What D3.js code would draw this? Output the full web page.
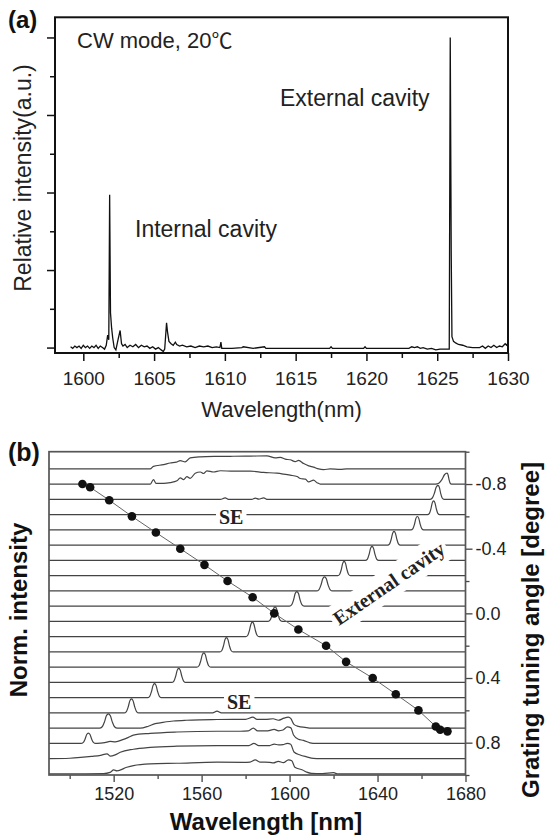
<!DOCTYPE html>
<html>
<head>
<meta charset="utf-8">
<script src="https://cdn.jsdelivr.net/npm/d3@7"></script>
<style>
body { margin: 0; background: #fff; }
svg { display: block; }
</style>
</head>
<body>
<svg id="fig" width="546" height="838"></svg>
<script>
// ---- panel (a) : CW spectrum, [wavelength nm, relative intensity]
const specA = [
  [1599.1,0.01],[1599.25,-0.01],[1599.4,0.02],[1599.55,0.0],[1599.7,0.02],[1599.85,-0.01],[1600.0,0.03],
  [1600.15,0.0],[1600.3,0.02],[1600.45,-0.01],[1600.6,0.02],[1600.75,0.0],[1600.9,0.03],[1601.05,-0.01],
  [1601.2,0.02],[1601.35,0.0],[1601.5,-0.02],[1601.62,0.03],[1601.72,0.16],[1601.8,0.1],[1601.86,1.97],
  [1601.92,0.45],[1602.0,0.25],[1602.08,0.12],[1602.18,0.0],[1602.3,-0.03],[1602.45,0.1],[1602.6,0.22],
  [1602.7,0.05],[1602.8,0.02],[1602.95,0.04],[1603.1,0.0],[1603.3,0.03],[1603.5,0.01],[1603.7,0.04],
  [1603.9,0.0],[1604.1,0.03],[1604.3,0.01],[1604.5,0.02],[1604.7,-0.01],[1604.9,0.01],[1605.1,-0.02],
  [1605.3,0.0],[1605.5,-0.03],[1605.65,-0.05],[1605.75,-0.02],[1605.88,0.32],[1605.95,0.2],[1606.05,0.08],
  [1606.2,0.05],[1606.35,0.03],[1606.5,0.07],[1606.6,0.04],[1606.8,0.02],[1607.0,0.03],[1607.3,0.01],
  [1607.6,0.02],[1607.9,0.0],[1608.2,0.02],[1608.5,0.01],[1608.8,0.02],[1609.1,0.0],[1609.4,0.01],
  [1609.65,0.0],[1609.72,0.07],[1609.78,-0.01],[1610.5,-0.01],[1611.2,0.0],[1611.3,0.01],[1612,-0.01],
  [1612.8,0.01],[1612.9,-0.01],[1614,-0.01],[1615.5,-0.01],[1617.4,-0.01],[1617.5,0.01],[1617.6,-0.01],
  [1619.8,-0.01],[1619.9,0.01],[1620.0,-0.01],[1623.0,-0.01],[1623.2,0.01],[1623.4,0.0],[1623.6,0.01],
  [1623.8,-0.01],[1624.0,0.0],[1624.3,-0.02],[1624.6,-0.01],[1624.9,-0.03],[1625.2,-0.02],[1625.85,-0.02],
  [1625.92,4.0],[1625.99,1.2],[1626.04,0.14],[1626.15,0.08],[1626.3,0.06],[1626.5,0.04],[1626.8,0.03],
  [1627.1,0.01],[1627.5,0.0],[1628.0,0.0],[1628.2,0.02],[1628.4,-0.01],[1628.6,0.02],[1628.8,0.0],
  [1629.0,0.03],[1629.2,0.0],[1629.4,0.02],[1629.6,0.01],[1629.8,0.05],[1629.9,0.03],[1630,0.06]
];
const ticksA = [1600,1605,1610,1615,1620,1625,1630];
const minorA = [1602.5,1607.5,1612.5,1617.5,1622.5,1627.5];
const yTicksA = [0,1,2,3,4];
const yMinorA = [0.5,1.5,2.5,3.5];

// ---- panel (b) : tuning spectra, row 0 = top trace
const nRows = 21;
const peakRow    = [1,2,3,4,5,6,7,8,9,10,11,12,13,14,15,16,17,18];
const peakCenter = [1671.6,1667.5,1665.5,1658.1,1647.5,1637.5,1624.8,1615.9,1603.3,1593.4,1583.1,1571.3,1561.0,1549.6,1538.6,1528.1,1517.6,1508.5];
const peakHeight = [0.72,0.92,0.9,0.88,0.9,0.92,0.94,0.92,0.96,0.95,0.95,0.94,0.94,0.92,0.92,0.92,0.94,0.68];
const peakWidthL = [1.8,1.3,0.95,1.0,1.0,1.05,1.0,1.25,1.15,1.1,1.05,1.05,1.1,1.1,1.1,1.15,1.4,1.15];
const peakWidthR = [0.7,0.95,0.95,1.0,1.0,1.05,1.0,1.25,1.15,1.1,1.05,1.05,1.1,1.1,1.1,1.15,1.4,1.15];
const peakProfile = [[-2.9,0],[-2.0,0.1],[-1.3,0.42],[-0.65,0.86],[0,1],[0.65,0.86],[1.3,0.42],[2.0,0.1],[2.9,0]];

const aseRow0 = [[1536.6,0],[1538.1,0.17],[1542.7,0.28],[1545.7,0.39],[1548.5,0.45],[1550.3,0.54],[1552.5,0.46],
  [1554.8,0.72],[1559.4,0.79],[1566,0.82],[1574.4,0.83],[1582.1,0.84],[1589.7,0.86],[1593.5,0.72],[1595.8,0.76],
  [1598,0.64],[1600.3,0.6],[1602.6,0.48],[1604.1,0.56],[1606.4,0.35],[1608.7,0.2],[1610.9,0.12],[1613.2,0.0],
  [1615.5,-0.04],[1618.5,0.0],[1623.1,-0.03],[1626,0]];
const aseRow1 = [[1536.6,0],[1538.1,0.3],[1539.3,0.05],[1542.7,0.05],[1545.7,0.1],[1548.8,0.22],[1550.3,0.42],
  [1551.8,0.3],[1553.3,0.5],[1554.8,0.38],[1557.1,0.72],[1559.4,0.8],[1560.9,0.7],[1562.4,0.87],[1565.4,0.8],
  [1568.5,0.88],[1574.5,0.85],[1582.1,0.86],[1588.2,0.77],[1594.3,0.72],[1597.3,0.66],[1600.3,0.59],[1603.4,0.5],
  [1604.9,0.37],[1607.2,0.33],[1608.7,0.15],[1610.9,0.26],[1612.5,0.1],[1614,0]];
const aseRow2 = [[1568.5,0],[1570.7,0.1],[1572.5,0],[1582.8,0],[1584.4,0.08],[1586,0.02],[1588.2,0.1],[1590,0]];
const aseRow16 = [[1565,0],[1567,0.12],[1569,0]];
const aseRow17 = [[1532,0],[1535.8,0.13],[1538.9,0.3],[1541.2,0.35],[1544,0.42],[1547.2,0.47],[1553,0.52],
  [1559.4,0.55],[1567,0.57],[1574.5,0.58],[1580,0.58],[1583.3,0.72],[1585.2,0.58],[1589,0.58],[1592.5,0.62],
  [1594.9,0.52],[1597.5,0.66],[1599.4,0.72],[1600.6,0.62],[1602,0.25],[1604,0.12],[1607,0.05],[1610,0]];
const aseRow18 = [[1512.5,0],[1516,0.05],[1518.4,0.13],[1520.7,0.1],[1524.5,0.27],[1526.7,0.4],[1529,0.55],
  [1536.6,0.66],[1548.8,0.75],[1567,0.8],[1577.6,0.8],[1581.2,0.82],[1583.5,1.0],[1585.5,0.82],[1590,0.82],
  [1593,0.92],[1595,0.83],[1597,0.88],[1599,1.08],[1600.6,1.02],[1601.8,0.55],[1604,0.27],[1606.3,0.2],
  [1609.3,0.04],[1612,0]];
const aseRow19 = [[1500,0.03],[1505,0.08],[1510,0.15],[1514,0.22],[1517,0.32],[1518.4,0.17],[1520.7,0.25],
  [1523,0.42],[1529,0.62],[1536.6,0.74],[1548.8,0.82],[1567,0.86],[1578,0.85],[1581.5,0.86],[1583.8,1.0],
  [1586,0.86],[1591,0.86],[1593,0.96],[1595,0.9],[1597,0.92],[1599,1.0],[1600.5,0.95],[1602,0.44],
  [1604.8,0.24],[1607.8,0.12],[1610.8,0.02],[1614,0]];
const aseRow20 = [[1515.4,0.02],[1518.4,0.1],[1520,0.26],[1521.5,0.2],[1526,0.44],[1529,0.55],[1536.6,0.66],
  [1548.8,0.7],[1567,0.77],[1579,0.76],[1582,0.78],[1584.4,0.92],[1586.5,0.78],[1591,0.76],[1592.6,0.72],
  [1594.9,0.83],[1597.2,0.74],[1599.5,0.92],[1601,0.86],[1602.4,0.44],[1605.9,0.26],[1607.8,0.12],[1610,0.04],
  [1615,0.02],[1620,0.08],[1622,0]];
const aseByRow = {0: aseRow0, 1: aseRow1, 2: aseRow2, 16: aseRow16, 17: aseRow17, 18: aseRow18, 19: aseRow19, 20: aseRow20};

// grating tuning angle vs lasing wavelength
const dotWl    = [1505.8,1509.3,1518,1528.3,1539.2,1550.3,1561.3,1571.8,1583.2,1593,1604,1616.6,1625.7,1637.8,1648.3,1658.6,1666.5,1668.5,1671.8];
const dotAngle = [-0.8,-0.78,-0.7,-0.6,-0.5,-0.4,-0.3,-0.2,-0.1,0,0.1,0.2,0.3,0.4,0.5,0.6,0.7,0.72,0.73];

const ticksB = [1520,1560,1600,1640,1680];
const minorB = [1500,1540,1580,1620,1660];
const angTicks = [-0.8,-0.4,0,0.4,0.8];
const angMinor = [-1,-0.6,-0.2,0.2,0.6,1];

const sans = "'Liberation Sans', Arial, Helvetica, sans-serif";
const serif = "'Liberation Serif', 'Times New Roman', serif";
const svg = d3.select("#fig");

// ================= panel (a)
const xA = d3.scaleLinear().domain([1598, 1630]).range([55, 508]);
const yA = d3.scaleLinear().domain([-0.07, 4.26]).range([353, 17.3]);
const gA = svg.append("g");

gA.append("path")
  .datum(specA)
  .attr("d", d3.line().x(d => xA(d[0])).y(d => yA(d[1])))
  .attr("fill", "none")
  .attr("stroke", "#111")
  .attr("stroke-width", 1.3);

const styleAxis = (g, size, col, sw) => {
  g.select(".domain").remove();
  g.attr("font-size", size).attr("font-family", sans).attr("color", col);
  g.selectAll("line").attr("stroke-width", sw);
  g.selectAll("text").attr("fill", "#222");
};

gA.append("g").attr("transform", "translate(0,353)")
  .call(d3.axisBottom(xA).tickValues(ticksA).tickSize(8).tickPadding(11).tickFormat(d3.format("d")))
  .call(g => styleAxis(g, 19, "#111", 1.5));
gA.append("g").attr("transform", "translate(0,353)")
  .call(d3.axisBottom(xA).tickValues(minorA).tickSize(5).tickFormat(""))
  .call(g => styleAxis(g, 19, "#111", 1.5));
gA.append("g").attr("transform", "translate(55,0)")
  .call(d3.axisLeft(yA).tickValues(yTicksA).tickSize(8).tickFormat(""))
  .call(g => styleAxis(g, 19, "#111", 1.5));
gA.append("g").attr("transform", "translate(55,0)")
  .call(d3.axisLeft(yA).tickValues(yMinorA).tickSize(5).tickFormat(""))
  .call(g => styleAxis(g, 19, "#111", 1.5));

gA.append("rect")
  .attr("x", xA.range()[0]).attr("y", yA.range()[1])
  .attr("width", xA.range()[1] - xA.range()[0])
  .attr("height", yA.range()[0] - yA.range()[1])
  .attr("fill", "none").attr("stroke", "#111").attr("stroke-width", 2);

gA.append("text").attr("x", 8).attr("y", 28)
  .attr("font-family", sans).attr("font-weight", "bold").attr("font-size", 24).attr("fill", "#111")
  .text("(a)");
const cw = gA.append("text").attr("x", 77).attr("y", 47.5)
  .attr("font-family", sans).attr("font-size", 22).attr("fill", "#222");
cw.append("tspan").text("CW mode, 20");
cw.append("tspan").attr("font-family", "'Noto Sans CJK SC', 'DejaVu Sans', sans-serif").attr("font-size", 21).text("℃");
gA.append("text").attr("x", 280).attr("y", 106)
  .attr("font-family", sans).attr("font-size", 23).attr("fill", "#222").text("External cavity");
gA.append("text").attr("x", 135).attr("y", 237)
  .attr("font-family", sans).attr("font-size", 23).attr("fill", "#222").text("Internal cavity");
gA.append("text").attr("transform", "translate(31,178) rotate(-90)")
  .attr("text-anchor", "middle")
  .attr("font-family", sans).attr("font-size", 23).attr("fill", "#222").text("Relative intensity(a.u.)");
gA.append("text").attr("x", 281.5).attr("y", 417)
  .attr("text-anchor", "middle")
  .attr("font-family", sans).attr("font-size", 22).attr("fill", "#222").text("Wavelength(nm)");

// ================= panel (b)
const xB = d3.scaleLinear().domain([1490.6, 1680]).range([49, 465.5]);
const yB = d3.scaleLinear().domain([-0.07, 21.13]).range([775, 451.7]);
const yAng = d3.scaleLinear().domain([-1, 1]).range([451.7, 775]);
const gB = svg.append("g");

const traceLine = d3.line().curve(d3.curveMonotoneX);
for (let r = 0; r < nRows; r++) {
  let pts = [];
  const ase = aseByRow[r] || [];
  ase.forEach(p => pts.push([p[0], p[1]]));
  peakRow.forEach((pr, i) => {
    if (pr !== r) return;
    peakProfile.forEach(p => {
      const w = p[0] < 0 ? peakWidthL[i] : peakWidthR[i];
      pts.push([peakCenter[i] + p[0] * w, p[1] * peakHeight[i]]);
    });
  });
  const dom = xB.domain();
  pts.push([dom[0], 0], [dom[1], 0]);
  pts.sort((a, b) => a[0] - b[0]);
  pts = pts.filter((p, i) => i === 0 || p[0] > pts[i - 1][0]);
  const off = nRows - 1 - r;
  gB.append("path")
    .attr("d", traceLine(pts.map(p => [xB(p[0]), yB(off + p[1])])))
    .attr("fill", "none")
    .attr("stroke", "#444")
    .attr("stroke-width", 1.2);
}

// labels sitting on white boxes over the traces
const seLabel = (x, y) => {
  const t = gB.append("text").attr("x", x).attr("y", y)
    .attr("font-family", serif).attr("font-weight", "bold").attr("font-size", 20).attr("fill", "#222").text("SE");
  const w = t.node().getComputedTextLength();
  gB.insert("rect", () => t.node())
    .attr("x", x - 3).attr("y", y - 16).attr("width", w + 6).attr("height", 18)
    .attr("fill", "#fff");
};
seLabel(219, 523.5);
seLabel(227, 708.5);

const ecG = gB.append("g").attr("transform", "translate(339,626) rotate(-34.5)");
const ecT = ecG.append("text")
  .attr("font-family", serif).attr("font-weight", "bold").attr("font-size", 20).attr("fill", "#222")
  .text("External cavity");
const bb = ecT.node().getBBox();
ecG.insert("rect", "text")
  .attr("x", bb.x - 3).attr("y", bb.y - 3.5).attr("width", bb.width + 6).attr("height", bb.height + 7)
  .attr("fill", "#fff");

// tuning curve
const dots = dotWl.map((w, i) => [w, dotAngle[i]]);
gB.append("path")
  .datum(dots)
  .attr("d", d3.line().x(d => xB(d[0])).y(d => yAng(d[1])))
  .attr("fill", "none").attr("stroke", "#666").attr("stroke-width", 1);
gB.selectAll("circle.dot").data(dots).join("circle")
  .attr("class", "dot")
  .attr("cx", d => xB(d[0])).attr("cy", d => yAng(d[1])).attr("r", 4.3)
  .attr("fill", "#111");

// axes (b)
gB.append("g").attr("transform", "translate(0,775)")
  .call(d3.axisBottom(xB).tickValues(ticksB).tickSize(7).tickPadding(5).tickFormat(d3.format("d")))
  .call(g => styleAxis(g, 18, "#444", 1.3));
gB.append("g").attr("transform", "translate(0,775)")
  .call(d3.axisBottom(xB).tickValues(minorB).tickSize(4).tickFormat(""))
  .call(g => styleAxis(g, 18, "#444", 1.3));
gB.append("g").attr("transform", "translate(465.5,0)")
  .call(d3.axisRight(yAng).tickValues(angTicks).tickSize(7).tickPadding(3).tickFormat(d3.format(".1f")))
  .call(g => styleAxis(g, 18, "#444", 1.3));
gB.append("g").attr("transform", "translate(465.5,0)")
  .call(d3.axisRight(yAng).tickValues(angMinor).tickSize(4).tickFormat(""))
  .call(g => styleAxis(g, 18, "#444", 1.3));
gB.selectAll("text").filter(function () { return /^−/.test(this.textContent); })
  .text(function () { return this.textContent.replace("−", "-"); });

gB.append("rect")
  .attr("x", xB.range()[0]).attr("y", yB.range()[1])
  .attr("width", xB.range()[1] - xB.range()[0])
  .attr("height", yB.range()[0] - yB.range()[1])
  .attr("fill", "none").attr("stroke", "#555").attr("stroke-width", 1.7);

gB.append("text").attr("x", 8).attr("y", 461)
  .attr("font-family", sans).attr("font-weight", "bold").attr("font-size", 25).attr("fill", "#111")
  .text("(b)");
gB.append("text").attr("transform", "translate(27,610) rotate(-90)")
  .attr("text-anchor", "middle")
  .attr("font-family", sans).attr("font-weight", "bold").attr("font-size", 24).attr("fill", "#111")
  .text("Norm. intensity");
gB.append("text").attr("transform", "translate(539,630) rotate(-90)")
  .attr("text-anchor", "middle")
  .attr("font-family", sans).attr("font-weight", "bold").attr("font-size", 24).attr("fill", "#111")
  .text("Grating tuning angle [degree]");
gB.append("text").attr("x", 266).attr("y", 830)
  .attr("text-anchor", "middle")
  .attr("font-family", sans).attr("font-weight", "bold").attr("font-size", 24).attr("fill", "#111")
  .text("Wavelength [nm]");
</script>
</body>
</html>
